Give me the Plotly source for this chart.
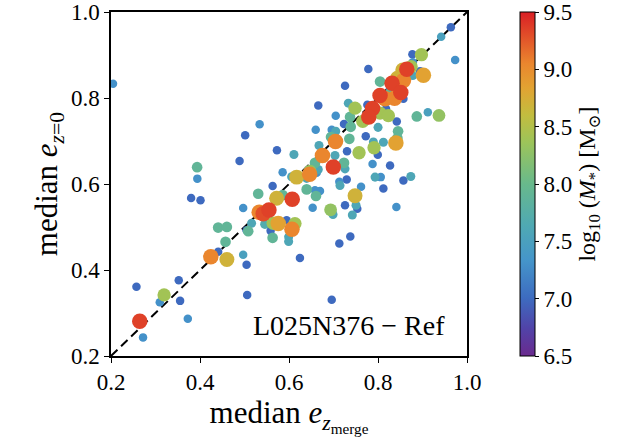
import plotly.graph_objects as go

# Galaxy-by-galaxy median eccentricities (at merger vs. at z=0) and stellar mass
e_merge = [
    0.2045, 0.534, 0.5015, 0.5729, 0.6111, 0.4889, 0.3935, 0.394, 0.5857, 0.6059,
    0.6172, 0.38, 0.4012, 0.5632, 0.5308, 0.5722, 0.5857, 0.6073, 0.5549, 0.542,
    0.533, 0.497, 0.5159, 0.5083, 0.5047, 0.4408, 0.4604, 0.4574, 0.4408, 0.4243,
    0.4604, 0.497, 0.5047, 0.5645, 0.5758, 0.5947, 0.6134, 0.6066, 0.5587, 0.5632,
    0.5992, 0.5992, 0.6246, 0.3523, 0.2572, 0.3193, 0.3096, 0.3553, 0.506, 0.3726,
    0.2646, 0.272, 0.9637, 0.9419, 0.9734, 0.8976, 0.8773, 0.7783, 0.8782, 0.8647,
    0.8557, 0.8744, 0.8946, 0.9021, 0.8782, 0.8571, 0.8436, 0.8316, 0.8046, 0.7259,
    0.8512, 0.8271, 0.8271, 0.8046, 0.8159, 0.8373, 0.8571, 0.6658, 0.7333, 0.7484,
    0.7761, 0.7878, 0.7792, 0.8046, 0.8233, 0.8181, 0.8422, 0.8872, 0.912, 0.937,
    0.705, 0.7657, 0.7371, 0.7236, 0.7387, 0.66, 0.696, 0.8001, 0.8451, 0.7045,
    0.7725, 0.7356, 0.7911, 0.8121, 0.8402, 0.8436, 0.7574, 0.6752, 0.6674, 0.6996,
    0.6464, 0.7995, 0.8271, 0.7878, 0.7259, 0.7236, 0.7304, 0.7297, 0.7934, 0.8062,
    0.8571, 0.8737, 0.705, 0.6944, 0.7034, 0.6584, 0.6471, 0.6658, 0.6397, 0.6622,
    0.7131, 0.7146, 0.6397, 0.6584, 0.6696, 0.6606, 0.6532, 0.6935, 0.7259, 0.7484,
    0.6989, 0.5459, 0.7423, 0.7619, 0.8121, 0.7506, 0.7535, 0.8413, 0.7378, 0.7131,
    0.696, 0.7896,
]
e_z0 = [
    0.833, 0.739, 0.7132, 0.6785, 0.6685, 0.6537, 0.6391, 0.6125, 0.6275, 0.6167,
    0.616, 0.5674, 0.562, 0.5951, 0.5773, 0.5667, 0.5743, 0.5644, 0.5396, 0.531,
    0.5343, 0.5442, 0.5088, 0.4903, 0.4926, 0.4986, 0.5002, 0.4655, 0.4424, 0.4308,
    0.4245, 0.4354, 0.4123, 0.5088, 0.5079, 0.5157, 0.5079, 0.4949, 0.491, 0.4748,
    0.4771, 0.4662, 0.4278, 0.3759, 0.3613, 0.3421, 0.325, 0.3282, 0.3421, 0.2866,
    0.281, 0.2433, 0.9648, 0.9424, 0.8884, 0.9007, 0.9019, 0.8676, 0.8829, 0.8671,
    0.8653, 0.8729, 0.8625, 0.8528, 0.8521, 0.8405, 0.8458, 0.8343, 0.8382, 0.8285,
    0.8127, 0.8227, 0.8111, 0.8058, 0.7981, 0.7995, 0.7981, 0.7826, 0.788, 0.7764,
    0.7843, 0.7757, 0.756, 0.7648, 0.759, 0.775, 0.7456, 0.7572, 0.7669, 0.7595,
    0.7588, 0.7456, 0.756, 0.7394, 0.7329, 0.7259, 0.7264, 0.7317, 0.7225, 0.6986,
    0.7109, 0.7051, 0.6843, 0.697, 0.6954, 0.7069, 0.6727, 0.6664, 0.6894, 0.6396,
    0.6225, 0.668, 0.6431, 0.6465, 0.6352, 0.6491, 0.6762, 0.6106, 0.616, 0.616,
    0.6079, 0.6176, 0.7225, 0.7093, 0.6662, 0.6491, 0.6299, 0.6338, 0.613, 0.6259,
    0.6051, 0.5963, 0.5875, 0.5852, 0.5836, 0.572, 0.5449, 0.540, 0.5505, 0.5727,
    0.5292, 0.5065, 0.528, 0.5935, 0.5898, 0.5507, 0.5426, 0.5465, 0.4778, 0.4616,
    0.3306, 0.6977,
]
log_mstar = [
    7.3, 7.3, 7.0, 7.0, 7.6, 7.0, 7.9, 7.3, 7.3, 7.6,
    8.7, 7.0, 7.0, 7.0, 7.9, 8.7, 7.9, 9.35, 9.35, 9.3,
    9.05, 7.3, 7.6, 7.9, 7.0, 7.9, 7.9, 7.9, 7.0, 9.05,
    8.7, 7.5, 7.0, 8.4, 8.85, 7.0, 8.4, 9.05, 7.0, 7.9,
    7.6, 7.6, 7.0, 7.0, 7.0, 8.4, 7.3, 7.0, 7.0, 7.3,
    9.35, 7.3, 7.0, 7.5, 7.3, 8.4, 7.0, 7.0, 7.3, 9.35,
    8.7, 8.4, 7.0, 8.85, 7.6, 9.05, 8.7, 9.35, 7.9, 7.0,
    9.35, 7.0, 7.9, 9.35, 9.05, 9.05, 7.0, 7.0, 7.6, 8.4,
    7.0, 9.35, 9.35, 8.4, 8.4, 7.0, 7.0, 7.9, 7.5, 8.3,
    7.3, 8.4, 7.9, 7.0, 7.9, 7.3, 7.3, 7.6, 7.9, 9.05,
    7.0, 7.9, 8.4, 7.6, 8.85, 7.9, 8.4, 9.05, 7.6, 9.35,
    9.05, 7.0, 7.0, 7.3, 7.6, 7.9, 7.0, 7.0, 7.6, 7.3,
    7.0, 7.6, 7.6, 7.9, 7.6, 7.9, 8.3, 7.6, 7.6, 7.3,
    7.3, 7.6, 7.9, 7.3, 7.3, 7.9, 7.3, 8.3, 7.0, 8.7,
    7.6, 7.7, 7.6, 7.3, 7.0, 7.6, 7.0, 7.3, 7.0, 7.0,
    7.0, 7.6,
]

cb_ticks = [6.5, 7.0, 7.5, 8.0, 8.5, 9.0, 9.5]
axis_ticks = [0.2, 0.4, 0.6, 0.8, 1.0]

colorscale = [
    [0.00, "#6a2a8e"],
    [0.08, "#5143a8"],
    [0.17, "#3d6cc0"],
    [0.28, "#4596ca"],
    [0.38, "#4fa9b3"],
    [0.50, "#68b98c"],
    [0.62, "#9cc45a"],
    [0.70, "#c2bd3f"],
    [0.78, "#e2a332"],
    [0.85, "#ea862e"],
    [1.00, "#da1f25"],
]

# draw massive galaxies last so they sit on top
order = sorted(range(len(log_mstar)), key=lambda i: log_mstar[i])
xs = [e_merge[i] for i in order]
ys = [e_z0[i] for i in order]
ms = [log_mstar[i] for i in order]
sizes = [8.5 + 7 * min(max((m - 7.5) / 1.3, 0), 1) for m in ms]

font_family = "Liberation Serif, DejaVu Serif, serif"
tick_size = 23
title_size = 31

fig = go.Figure()
fig.add_trace(go.Scatter(
    x=[0.2, 1.0], y=[0.2, 1.0], mode="lines",
    line=dict(color="black", width=2, dash="9px,5px"),
    showlegend=False, hoverinfo="skip",
))
fig.add_trace(go.Scatter(
    x=xs, y=ys, mode="markers", showlegend=False,
    marker=dict(
        size=sizes, color=ms, colorscale=colorscale, cmin=6.5, cmax=9.5,
        opacity=1, line=dict(width=0),
        colorbar=dict(
            x=1.15, xanchor="left", xpad=0, y=0.5, yanchor="middle", len=1.0,
            ypad=0, thickness=15, outlinecolor="black", outlinewidth=1,
            tickvals=cb_ticks, ticktext=[f"{v:.1f}" for v in cb_ticks],
            ticks="outside", ticklen=4, tickcolor="black",
            ticklabeloverflow="allow",
            tickfont=dict(family=font_family, size=tick_size, color="black"),
            title=dict(
                text="log<sub>10</sub> (<i>M</i><sub>*</sub>) [M<sub>⊙</sub>]",
                side="right",
                font=dict(family=font_family, size=24, color="black"),
            ),
        ),
    ),
))

fig.add_annotation(
    x=0.945, y=0.09, xref="paper", yref="paper", xanchor="right", yanchor="middle",
    text="L025N376 − Ref", showarrow=False,
    font=dict(family=font_family, size=28, color="black"),
)

axis_common = dict(
    range=[0.2, 1.0], tickvals=axis_ticks, ticktext=[f"{v:.1f}" for v in axis_ticks],
    ticks="outside", ticklen=5, tickwidth=1, tickcolor="black",
    showline=True, linecolor="black", linewidth=1.5, mirror=True,
    showgrid=False, zeroline=False, automargin=False,
    ticklabeloverflow="allow",
    tickfont=dict(family=font_family, size=tick_size, color="black"),
)

fig.update_xaxes(
    **axis_common,
    title=dict(text="median <i>e</i><sub><i>z</i><sub>merge</sub></sub>",
               font=dict(family=font_family, size=title_size, color="black"), standoff=4),
)
fig.update_yaxes(
    **axis_common,
    title=dict(text="median <i>e</i><sub><i>z</i>=0</sub>",
               font=dict(family=font_family, size=title_size, color="black"), standoff=4),
)

fig.update_layout(
    width=617, height=443,
    margin=dict(l=111, r=150, t=12, b=87, autoexpand=False),
    plot_bgcolor="white", paper_bgcolor="white",
)

fig.write_html("out.html")
